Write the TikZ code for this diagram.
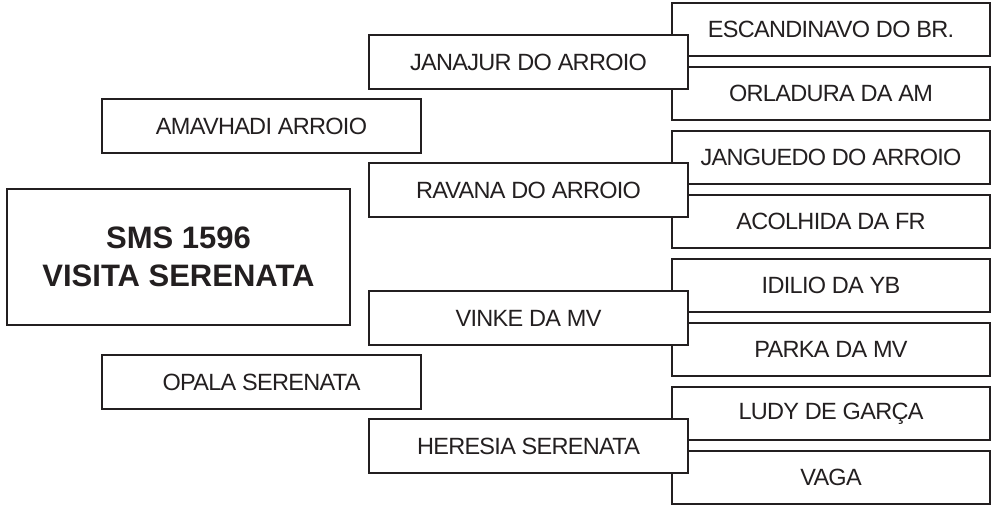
\documentclass[tikz,border=0pt]{standalone}
\usepackage{fontspec}
\setmainfont{Liberation Sans}
\newfontfamily\pedfont[LetterSpace=-3]{Liberation Sans}
\usepackage{xcolor}
\usepackage{tikz}
\definecolor{pedink}{HTML}{231F20}
\tikzset{
  pbox/.style={draw=pedink,line width=2.2pt,fill=white,text=pedink,align=center,inner sep=0pt,minimum width=318pt,minimum height=53pt,font=\pedfont\fontsize{23.5}{26}\selectfont},
  gen3/.style={pbox},
  gen2/.style={pbox,minimum width=319pt,minimum height=54pt},
  gen1/.style={pbox,minimum width=319pt,minimum height=54pt},
  mainbox/.style={pbox,minimum width=343pt,minimum height=136pt,font=\fontsize{31}{38}\selectfont\bfseries},
}

\begin{document}
\begin{tikzpicture}[x=1pt,y=-1pt]
  \useasboundingbox (0,0) rectangle (993,504);
  % grandparents first, parents overlap them
  \foreach \i/\l in {0/ESCANDINAVO DO BR., 1/ORLADURA DA AM, 2/JANGUEDO DO ARROIO, 3/ACOLHIDA DA FR, 4/IDILIO DA YB, 5/PARKA DA MV, 6/LUDY DE GARÇA, 7/VAGA} {
     \node[gen3] (g3-\i) at (831,29.5+64*\i) {\l};
  }
  \foreach \i/\l in {0/JANAJUR DO ARROIO, 1/RAVANA DO ARROIO, 2/VINKE DA MV, 3/HERESIA SERENATA} {
     \node[gen2] (g2-\i) at (528.5,62+128*\i) {\l};
  }
  \node[gen1] (sire) at (261.5,126) {AMAVHADI ARROIO};
  \node[gen1] (dam) at (261.5,382) {OPALA SERENATA};
  \node[mainbox] (horse) at (178.5,257) {SMS 1596\\VISITA SERENATA};
\end{tikzpicture}
\end{document}
